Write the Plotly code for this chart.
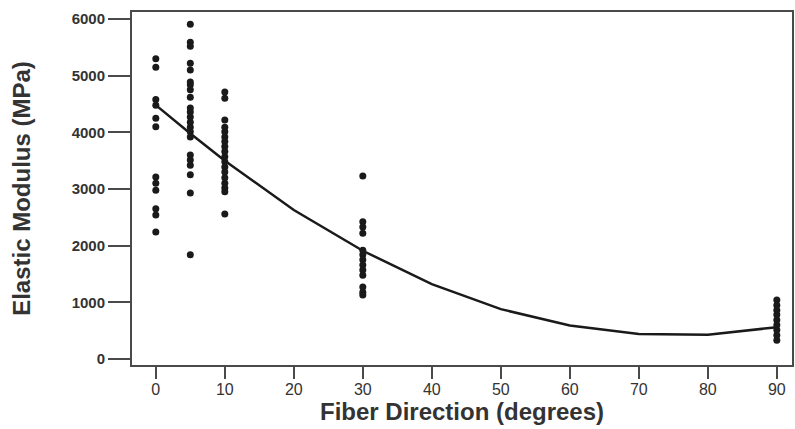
import plotly.graph_objects as go

# Data
angle_0 = [5300, 5150, 4580, 4480, 4250, 4100, 3210, 3100, 2980, 2650, 2540, 2240]
angle_5 = [5910, 5590, 5520, 5220, 5100, 4890, 4840, 4750, 4620, 4430, 4360, 4270,
           4180, 4090, 4010, 3920, 3600, 3510, 3420, 3250, 2930, 1840]
angle_10 = [4710, 4600, 4220, 4090, 4010, 3920, 3840, 3750, 3660, 3570, 3480, 3390,
            3300, 3200, 3100, 3020, 2950, 2560]
angle_30 = [3230, 2420, 2330, 2220, 1920, 1840, 1750, 1660, 1570, 1480, 1270, 1180, 1130]
angle_90 = [1040, 950, 860, 780, 690, 600, 510, 420, 330]

fit_x = [0, 5, 10, 20, 30, 40, 50, 60, 70, 80, 90]
fit_y = [4480, 3980, 3500, 2630, 1910, 1320, 880, 590, 440, 430, 560]

x_ticks = [0, 10, 20, 30, 40, 50, 60, 70, 80, 90]
y_ticks = [0, 1000, 2000, 3000, 4000, 5000, 6000]

xs, ys = [], []
for ang, vals in [(0, angle_0), (5, angle_5), (10, angle_10), (30, angle_30), (90, angle_90)]:
    xs += [ang] * len(vals)
    ys += vals

fig = go.Figure()
fig.add_trace(go.Scatter(x=fit_x, y=fit_y, mode="lines",
                         line=dict(color="#1a1a1a", width=2.5), hoverinfo="skip"))
fig.add_trace(go.Scatter(x=xs, y=ys, mode="markers",
                         marker=dict(color="#1a1a1a", size=7)))

fig.update_layout(
    width=795, height=429,
    margin=dict(l=132, r=3, t=12, b=64, autoexpand=False),
    paper_bgcolor="white", plot_bgcolor="white",
    showlegend=False,
    font=dict(family="Liberation Sans, Arial, sans-serif", color="#333333"),
)
fig.update_xaxes(
    range=[-3.45, 92.2], tickvals=x_ticks, ticktext=[str(v) for v in x_ticks],
    showgrid=False, zeroline=False,
    showline=True, mirror=True, linecolor="#4a4a4a", linewidth=2,
    ticks="outside", ticklen=12, tickwidth=1.5, tickcolor="#4a4a4a",
    tickfont=dict(size=16, color="#333333"), ticklabelstandoff=-3,
    title=dict(text="<b>Fiber Direction (degrees)</b>", standoff=2,
               font=dict(size=24, color="#333333")),
)
fig.update_yaxes(
    range=[-106, 6124], tickvals=y_ticks, ticktext=[str(v) for v in y_ticks],
    showgrid=False, zeroline=False,
    showline=True, mirror=True, linecolor="#4a4a4a", linewidth=2,
    ticks="outside", ticklen=22, tickwidth=1.5, tickcolor="#4a4a4a",
    tickfont=dict(size=15, color="#333333", weight="bold"),
    title=dict(text="<b>Elastic Modulus (MPa)</b>", standoff=34,
               font=dict(size=24, color="#333333")),
)

fig.write_html("out.html", config={"displayModeBar": False},
               post_script="document.body.style.margin='0';")
